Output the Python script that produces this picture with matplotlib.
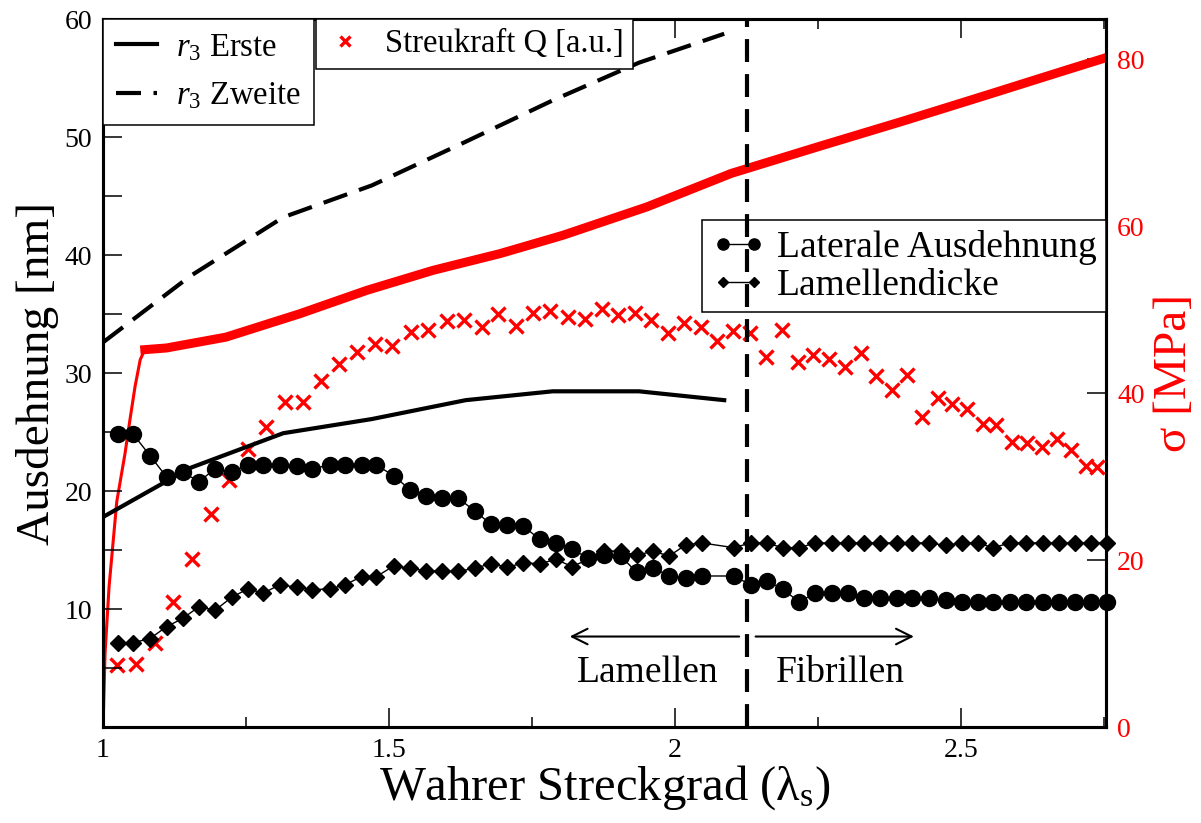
import matplotlib
matplotlib.use("Agg")
import matplotlib.pyplot as plt
from matplotlib.ticker import FixedLocator

plt.rcParams['font.family'] = ['Liberation Serif', 'DejaVu Serif']
plt.rcParams['mathtext.fontset'] = 'custom'
plt.rcParams['mathtext.rm'] = 'Liberation Serif'
plt.rcParams['mathtext.it'] = 'Liberation Serif:italic'

# r3 (Erste / Zweite)
lam_r3 = [1.0, 1.152, 1.315, 1.47, 1.634, 1.786, 1.937, 2.086]
r3_erste = [17.8, 21.95, 24.9, 26.1, 27.7, 28.45, 28.45, 27.7]
r3_zweite = [32.6, 38.2, 43.2, 45.9, 49.6, 53.1, 56.3, 58.75]

# Laterale Ausdehnung / Lamellendicke
lam_saxs = [1.027, 1.053, 1.082, 1.111, 1.139, 1.168, 1.196, 1.225, 1.253, 1.280,
            1.309, 1.339, 1.366, 1.396, 1.423, 1.452, 1.478, 1.508, 1.537, 1.565,
            1.592, 1.621, 1.650, 1.678, 1.707, 1.735, 1.764, 1.792, 1.820, 1.848,
            1.876, 1.905, 1.933, 1.961, 1.990, 2.019, 2.047, 2.103, 2.132, 2.160,
            2.188, 2.217, 2.245, 2.274, 2.303, 2.331, 2.358, 2.388, 2.415, 2.444,
            2.473, 2.501, 2.529, 2.556, 2.586, 2.614, 2.643, 2.671, 2.699, 2.728,
            2.755]
lateral = [24.8, 24.8, 23.0, 21.2, 21.6, 20.8, 21.9, 21.6, 22.2, 22.2,
           22.2, 22.1, 21.9, 22.2, 22.2, 22.2, 22.2, 21.3, 20.1, 19.6,
           19.4, 19.4, 18.3, 17.2, 17.15, 17.0, 15.9, 15.6, 15.1, 14.3,
           14.6, 14.5, 13.1, 13.5, 12.8, 12.6, 12.8, 12.8, 12.05, 12.4,
           11.7, 10.6, 11.35, 11.35, 11.35, 10.9, 10.9, 10.9, 10.9, 10.9,
           10.8, 10.6, 10.6, 10.6, 10.6, 10.6, 10.6, 10.6, 10.6, 10.6,
           10.6]
lamdicke = [7.15, 7.15, 7.5, 8.5, 9.2, 10.2, 9.9, 11.0, 11.7, 11.35,
            12.05, 11.85, 11.65, 11.7, 12.05, 12.75, 12.75, 13.65, 13.45, 13.25,
            13.2, 13.2, 13.45, 13.85, 13.55, 13.9, 13.85, 14.2, 13.6, 14.2,
            14.9, 14.9, 14.55, 14.9, 14.5, 15.45, 15.6, 15.2, 15.6, 15.6,
            15.2, 15.2, 15.6, 15.6, 15.6, 15.6, 15.6, 15.6, 15.6, 15.6,
            15.4, 15.6, 15.6, 15.2, 15.6, 15.6, 15.6, 15.6, 15.6, 15.6,
            15.6]

# Streukraft Q (plotted on right scale)
lam_q = [1.024, 1.057, 1.091, 1.123, 1.156, 1.188, 1.221, 1.253, 1.285, 1.318,
         1.349, 1.381, 1.413, 1.444, 1.476, 1.506, 1.538, 1.569, 1.601, 1.631,
         1.662, 1.691, 1.722, 1.752, 1.781, 1.813, 1.843, 1.872, 1.901, 1.930,
         1.958, 1.987, 2.016, 2.045, 2.073, 2.102, 2.131, 2.159, 2.187, 2.215,
         2.242, 2.270, 2.297, 2.325, 2.351, 2.379, 2.405, 2.432, 2.459, 2.485,
         2.511, 2.539, 2.562, 2.590, 2.615, 2.641, 2.667, 2.692, 2.718, 2.737]
streukraft = [7.4, 7.6, 10.06, 14.93, 20.12, 25.47, 29.58, 33.26, 35.96, 38.96,
              38.96, 41.47, 43.47, 44.95, 45.83, 45.63, 47.34, 47.54, 48.66, 48.74,
              47.87, 49.46, 48.02, 49.62, 49.82, 49.14, 48.86, 50.02, 49.34, 49.62,
              48.74, 47.15, 48.41, 47.94, 46.26, 47.43, 47.15, 44.27, 47.54, 43.75,
              44.55, 44.07, 43.15, 44.83, 42.07, 40.36, 42.16, 37.16, 39.36, 38.68,
              38.08, 36.29, 36.17, 34.17, 34.05, 33.5, 34.46, 33.13, 31.22, 31.14]

# Spannung sigma [MPa]
lam_sigma = [1.0, 1.0035, 1.0105, 1.024, 1.0385, 1.047, 1.056, 1.065, 1.073,
             1.111, 1.215, 1.344, 1.461, 1.577, 1.694, 1.804, 1.951, 2.098,
             2.25, 2.40, 2.55, 2.68, 2.755]
sigma = [0.0, 8.8, 16.8, 27.0, 32.8, 36.8, 40.8, 44.0, 45.2,
         45.4, 46.7, 49.5, 52.3, 54.7, 56.7, 58.9, 62.3, 66.3,
         69.5, 72.6, 75.8, 78.6, 80.2]

lam_trans = 2.125

fig = plt.figure(figsize=(12.01, 8.23), dpi=100)
fig.patch.set_facecolor('white')
ax = fig.add_axes([0.0858, 0.1166, 0.8351, 0.8603])
ax2 = ax.twinx()
ax.set_zorder(ax2.get_zorder() + 1)
ax.patch.set_visible(False)

# right axis: stress curve and scattering power
ax2.plot(lam_sigma, sigma, color='red', lw=2.2)
ax2.plot(lam_sigma[8:], sigma[8:], color='red', lw=6.5)
q_line, = ax2.plot(lam_q, streukraft, ls='none', marker='x', ms=9.5, mew=2.4,
                   color='red', label='Streukraft Q [a.u.]')

# left axis
l1, = ax.plot(lam_r3, r3_erste, color='black', lw=3, label=r'$r_3$ Erste')
l2, = ax.plot(lam_r3, r3_zweite, color='black', lw=3, dashes=(6, 3),
              label=r'$r_3$ Zweite')
l3, = ax.plot(lam_saxs, lateral, color='black', lw=1, marker='o', ms=11.5,
              clip_on=False, label='Laterale Ausdehnung')
l4, = ax.plot(lam_saxs, lamdicke, color='black', lw=1, marker='D', ms=8,
              clip_on=False, label='Lamellendicke')

ax.axvline(lam_trans, color='black', lw=3, dashes=(5.5, 2.9), zorder=6)

ax.annotate('', xy=(1.811, 7.67), xytext=(2.117, 7.67),
            arrowprops=dict(arrowstyle='->', lw=1.5, mutation_scale=28, color='black'))
ax.annotate('', xy=(2.4225, 7.67), xytext=(2.136, 7.67),
            arrowprops=dict(arrowstyle='->', lw=1.5, mutation_scale=28, color='black'))
ax.text(1.952, 3.85, 'Lamellen', fontsize=27, ha='center', va='baseline')
ax.text(2.2885, 3.85, 'Fibrillen', fontsize=27, ha='center', va='baseline')

ax.set_xlim(1, 2.7535)
ax.set_ylim(0, 60)
ax2.set_ylim(0, 84.8)

ax.xaxis.set_major_locator(FixedLocator([1, 1.5, 2, 2.5]))
ax.xaxis.set_minor_locator(FixedLocator([1.25, 1.75, 2.25, 2.75]))
ax.set_xticklabels(['1', '1.5', '2', '2.5'])
ax.yaxis.set_major_locator(FixedLocator([10, 20, 30, 40, 50, 60]))
ax.yaxis.set_minor_locator(FixedLocator([5, 15, 25, 35, 45, 55]))
ax2.yaxis.set_major_locator(FixedLocator([0, 20, 40, 60, 80]))

ax.tick_params(axis='x', which='both', direction='in', top=True, labelsize=20, pad=8)
ax.tick_params(axis='x', which='major', length=14, width=1.1)
ax.tick_params(axis='x', which='minor', length=7, width=1.1)
ax.tick_params(axis='y', which='both', direction='in', length=14, width=1.1,
               labelsize=20, pad=8, right=False)
ax2.tick_params(axis='y', which='both', direction='in', length=14, width=1.1,
                labelsize=20, pad=8, labelcolor='red')

for a in (ax, ax2):
    for s in a.spines.values():
        s.set_linewidth(2.2)

ax.set_xlabel(r'Wahrer Streckgrad ($\mathrm{\lambda_s}$)', fontsize=35, labelpad=0)
ax.set_ylabel('Ausdehnung [nm]', fontsize=34, labelpad=4)
ax2.set_ylabel('σ [MPa]', fontsize=34, color='red', labelpad=6)

frame = dict(fancybox=False, framealpha=1, edgecolor='black', borderaxespad=0)

leg1 = ax.legend(handles=[l1, l2], loc='upper left', bbox_to_anchor=(0, 1.0),
                 fontsize=23.5, handlelength=1.25, handletextpad=0.6,
                 borderpad=0.4, labelspacing=0.55, **frame)
leg1.get_frame().set_linewidth(1.1)
ax.add_artist(leg1)

leg2 = ax.legend(handles=[q_line], loc='upper left', bbox_to_anchor=(0.2124, 1.0),
                 fontsize=23.5, handlelength=1.2, handletextpad=0.6, numpoints=1,
                 markerscale=0.7, borderpad=0.3, **frame)
leg2.get_frame().set_linewidth(1.1)
ax.add_artist(leg2)

leg3 = ax.legend(handles=[l3, l4], loc='upper right', bbox_to_anchor=(1.0, 0.7157),
                 fontsize=27, handlelength=1.45, handletextpad=0.3, numpoints=2,
                 markerscale=0.7, borderpad=0.25, labelspacing=0.1, **frame)
leg3.get_frame().set_linewidth(1.1)

fig.savefig('out.png', dpi=100)
